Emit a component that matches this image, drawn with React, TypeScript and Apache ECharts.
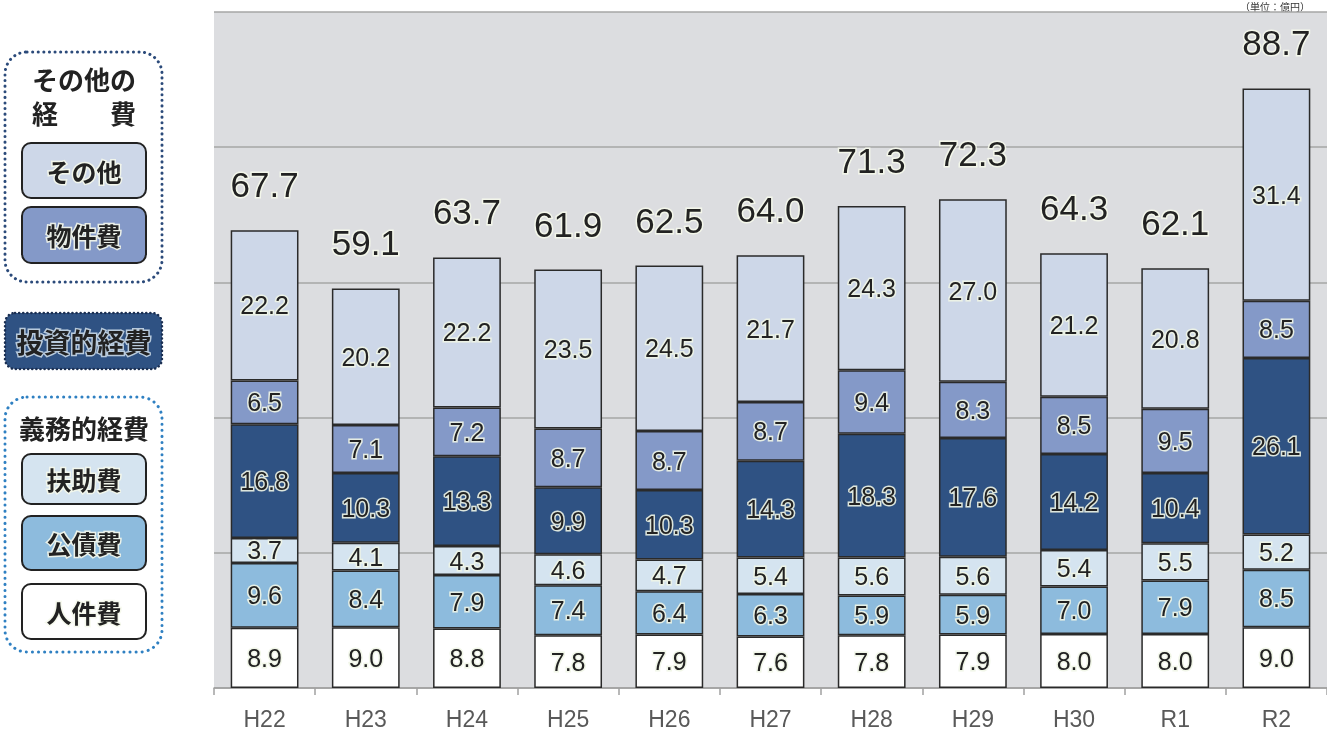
import React, { useEffect, useRef } from "react";
import * as echarts from "echarts";

const categories = ["H22", "H23", "H24", "H25", "H26", "H27", "H28", "H29", "H30", "R1", "R2"];
const jinkenhi = [8.9, 9.0, 8.8, 7.8, 7.9, 7.6, 7.8, 7.9, 8.0, 8.0, 9.0];
const kousaihi = [9.6, 8.4, 7.9, 7.4, 6.4, 6.3, 5.9, 5.9, 7.0, 7.9, 8.5];
const fujohi = [3.7, 4.1, 4.3, 4.6, 4.7, 5.4, 5.6, 5.6, 5.4, 5.5, 5.2];
const toushiteki = [16.8, 10.3, 13.3, 9.9, 10.3, 14.3, 18.3, 17.6, 14.2, 10.4, 26.1];
const bukkenhi = [6.5, 7.1, 7.2, 8.7, 8.7, 8.7, 9.4, 8.3, 8.5, 9.5, 8.5];
const sonota = [22.2, 20.2, 22.2, 23.5, 24.5, 21.7, 24.3, 27.0, 21.2, 20.8, 31.4];
const totals = [67.7, 59.1, 63.7, 61.9, 62.5, 64.0, 71.3, 72.3, 64.3, 62.1, 88.7];

const NUM_FONT = '"Liberation Sans", Arial, sans-serif';
const JP_FONT = '"Noto Sans CJK JP", sans-serif';

const seriesDefs = [
  { name: "人件費", data: jinkenhi, color: "#ffffff" },
  { name: "公債費", data: kousaihi, color: "#8dbbdd" },
  { name: "扶助費", data: fujohi, color: "#d5e4f0" },
  { name: "投資的経費", data: toushiteki, color: "#2f5283" },
  { name: "物件費", data: bukkenhi, color: "#8499c8" },
  { name: "その他", data: sonota, color: "#cdd7e8" },
];

function legendBox(y: number, h: number, fill: string, label: string) {
  return [
    {
      type: "rect",
      shape: { x: 22, y, width: 124, height: h, r: 9 },
      style: { fill, stroke: "#222", lineWidth: 2 },
    },
    {
      type: "text",
      x: 84,
      y: y + h / 2,
      style: {
        text: label,
        font: `bold 25px ${JP_FONT}`,
        fill: "#222",
        align: "center",
        verticalAlign: "middle",
        stroke: "rgba(245,248,235,0.9)",
        lineWidth: 3,
      },
    },
  ];
}

export default function App() {
  const ref = useRef<HTMLDivElement>(null);
  useEffect(() => {
    if (!ref.current) return;
    const chart = echarts.init(ref.current, null, { renderer: "svg" });
    const series: any[] = seriesDefs.map((s) => ({
      name: s.name,
      type: "bar",
      stack: "total",
      data: s.data,
      barWidth: "67%",
      itemStyle: { color: s.color, borderColor: "#2a2a2a", borderWidth: 1.5 },
      label: {
        show: true,
        position: "inside",
        formatter: (p: any) => Number(p.value).toFixed(1),
        fontFamily: NUM_FONT,
        fontSize: 25,
        color: "#222",
        textBorderColor: "rgba(240,245,230,0.9)",
        textBorderWidth: 3,
      },
    }));
    series.push({
      name: "合計",
      type: "bar",
      stack: "total",
      data: totals.map(() => 0),
      barWidth: "67%",
      itemStyle: { color: "transparent", borderWidth: 0 },
      label: {
        show: true,
        position: "top",
        distance: 28,
        formatter: (p: any) => totals[p.dataIndex].toFixed(1),
        fontFamily: NUM_FONT,
        fontSize: 35,
        color: "#222",
        textBorderColor: "rgba(245,248,235,0.9)",
        textBorderWidth: 3,
      },
    });

    const graphic: any[] = [
      {
        type: "rect",
        shape: { x: 5, y: 52, width: 157, height: 230, r: 22 },
        style: { fill: "none", stroke: "#2b4a7a", lineWidth: 3, lineDash: [0.1, 5.5], lineCap: "round" },
      },
      {
        type: "text",
        x: 84,
        y: 78,
        style: { text: "その他の", font: `bold 26px ${JP_FONT}`, fill: "#222", align: "center", verticalAlign: "middle" },
      },
      {
        type: "text",
        x: 84,
        y: 112,
        style: { text: "経　　費", font: `bold 26px ${JP_FONT}`, fill: "#222", align: "center", verticalAlign: "middle" },
      },
      ...legendBox(143, 55, "#cdd7e8", "その他"),
      ...legendBox(207, 56, "#8499c8", "物件費"),
      {
        type: "rect",
        shape: { x: 5, y: 313, width: 157, height: 56, r: 10 },
        style: { fill: "#2f5283", stroke: "#1b2f52", lineWidth: 2.5, lineDash: [0.1, 4], lineCap: "round" },
      },
      {
        type: "text",
        x: 84,
        y: 341,
        style: {
          text: "投資的経費",
          font: `bold 27px ${JP_FONT}`,
          fill: "#222",
          align: "center",
          verticalAlign: "middle",
          stroke: "rgba(200,215,230,0.9)",
          lineWidth: 3,
        },
      },
      {
        type: "rect",
        shape: { x: 5, y: 397, width: 157, height: 255, r: 22 },
        style: { fill: "none", stroke: "#2f80c2", lineWidth: 3, lineDash: [0.1, 6], lineCap: "round" },
      },
      {
        type: "text",
        x: 84,
        y: 427,
        style: { text: "義務的経費", font: `bold 26px ${JP_FONT}`, fill: "#222", align: "center", verticalAlign: "middle" },
      },
      ...legendBox(454, 50, "#d5e4f0", "扶助費"),
      ...legendBox(516, 54, "#8dbbdd", "公債費"),
      ...legendBox(584, 55, "#ffffff", "人件費"),
      {
        type: "text",
        x: 1310,
        y: 6,
        style: {
          text: "（単位：億円）",
          font: `10px ${JP_FONT}`,
          lineHeight: 10,
          fill: "#333",
          align: "right",
          verticalAlign: "middle",
        },
      },
    ];

    chart.setOption({
      animation: false,
      grid: {
        left: 214,
        right: -6,
        top: 12,
        bottom: 43,
        show: true,
        backgroundColor: "#dcdde0",
        borderWidth: 0,
      },
      xAxis: {
        type: "category",
        data: categories,
        axisLine: { show: true, lineStyle: { color: "#a0a0a0", width: 1.5 } },
        axisTick: { show: true, length: 7, lineStyle: { color: "#a0a0a0", width: 1.5 } },
        axisLabel: { color: "#595959", fontSize: 23, fontFamily: NUM_FONT, margin: 19 },
      },
      yAxis: {
        type: "value",
        min: 0,
        max: 100,
        interval: 20,
        axisLabel: { show: false },
        axisLine: { show: false },
        axisTick: { show: false },
        splitLine: { show: true, lineStyle: { color: "#a6a6a6", width: 1.5 } },
      },
      series,
      graphic,
    });
    return () => chart.dispose();
  }, []);
  return (
    <div
      ref={ref}
      style={{ position: "fixed", left: 0, top: 0, width: 1327, height: 731 }}
    />
  );
}
